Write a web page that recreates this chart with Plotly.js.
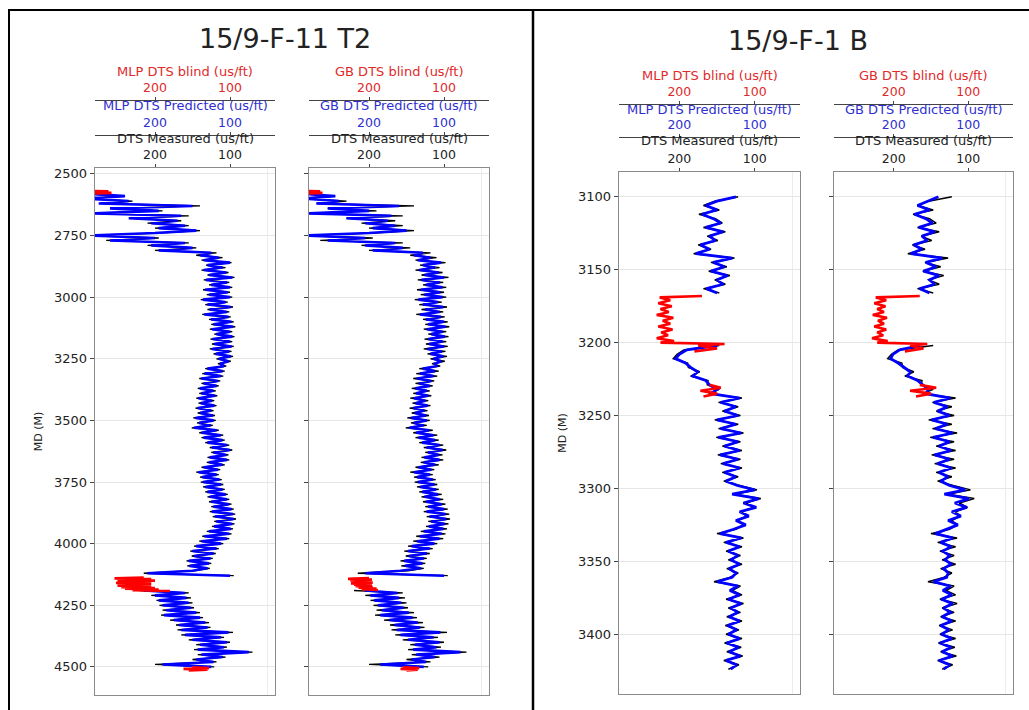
<!DOCTYPE html>
<html><head><meta charset="utf-8">
<script src="https://cdn.plot.ly/plotly-3.0.1.min.js"></script>
<style>html,body{margin:0;padding:0;background:#fff}#chart{width:1029px;height:710px}</style>
</head><body><div id="chart"></div><script>
// ---------- Well 15/9-F-11 T2 ----------
const depthF11 = [
2580,2590,2600,2610,2620,2630,2640,2650,2660,2670,
2680,2690,2700,2710,2720,2730,2740,2750,2760,2770,
2780,2790,2800,2810,2820,2830,2840,2850,2860,2870,
2880,2890,2900,2910,2920,2930,2940,2950,2960,2970,
2980,2990,3000,3010,3020,3030,3040,3050,3060,3070,
3080,3090,3100,3110,3120,3130,3140,3150,3160,3170,
3180,3190,3200,3210,3220,3230,3240,3250,3260,3270,
3280,3290,3300,3310,3320,3330,3340,3350,3360,3370,
3380,3390,3400,3410,3420,3430,3440,3450,3460,3470,
3480,3490,3500,3510,3520,3530,3540,3550,3560,3570,
3580,3590,3600,3610,3620,3630,3640,3650,3660,3670,
3680,3690,3700,3710,3720,3730,3740,3750,3760,3770,
3780,3790,3800,3810,3820,3830,3840,3850,3860,3870,
3880,3890,3900,3910,3920,3930,3940,3950,3960,3970,
3980,3990,4000,4010,4020,4030,4040,4050,4060,4070,
4080,4090,4100,4110,4120,4130,4140,4150,4160,4170,
4180,4190,4200,4210,4220,4230,4240,4250,4260,4270,
4280,4290,4300,4310,4320,4330,4340,4350,4360,4370,
4380,4390,4400,4410,4420,4430,4440,4450,4460,4470,
4480,4490,4500,4510];
const f11Measured = [
295,245,290,230,270,140,255,190,290,155,
230,165,210,155,200,140,195,295,195,265,
155,210,145,200,118,145,110,138,98,132,
106,138,102,130,94,135,101,128,97,136,
100,131,97,139,103,133,96,130,101,137,
99,128,95,125,93,127,97,121,94,126,
97,124,95,127,98,122,96,118,99,116,
105,133,107,137,109,141,113,138,115,143,
119,141,117,145,121,142,118,146,122,143,
120,149,119,144,123,151,115,141,109,138,
107,133,101,127,97,125,102,130,101,131,
107,138,113,145,115,140,111,139,109,136,
107,133,103,130,101,128,98,125,95,127,
93,123,92,121,94,124,96,131,98,137,
101,141,109,148,115,153,119,151,123,158,
125,157,127,148,215,95,null,null,null,null,
null,220,155,205,152,198,150,194,148,190,
140,192,136,180,128,172,126,170,96,165,
108,155,100,145,104,148,70,143,106,150,
118,200,121,null];
const f11MlpPred = [
290,240,295,235,275,150,260,195,285,165,
235,170,205,160,195,145,200,290,200,260,
160,205,150,195,125,140,115,135,100,130,
110,135,105,128,97,132,104,125,100,133,
103,128,100,136,106,130,99,127,104,134,
102,125,98,122,96,124,100,118,97,123,
100,121,98,124,101,119,99,115,102,113,
108,130,110,134,112,138,116,135,118,140,
122,138,120,142,124,139,121,143,125,140,
123,146,122,141,126,148,118,138,112,135,
110,130,104,124,100,122,105,127,104,128,
110,135,116,142,118,137,114,136,112,133,
110,130,106,127,104,125,101,122,98,124,
96,120,95,118,97,121,99,128,101,134,
104,138,112,145,118,150,122,148,126,155,
128,154,130,150,210,100,null,null,null,null,
null,215,160,200,158,195,155,190,152,185,
145,188,140,175,133,168,130,165,102,160,
112,150,104,140,108,143,75,138,110,145,
122,190,125,null];
const f11GbPred = [
292,245,290,240,270,160,255,200,280,170,
230,175,205,165,195,150,200,285,205,255,
165,205,155,195,128,140,118,135,104,128,
112,133,107,126,100,130,106,124,102,131,
105,126,102,134,108,128,101,125,106,132,
104,124,100,121,98,123,102,117,99,121,
102,120,100,122,103,118,101,114,104,112,
110,128,112,132,114,136,117,133,119,138,
123,137,121,140,125,138,122,141,126,139,
124,144,123,140,127,146,120,137,114,134,
112,129,106,123,102,121,107,126,106,127,
112,134,117,140,119,136,115,135,113,132,
111,129,108,126,106,124,103,121,100,123,
98,119,97,117,99,120,101,127,103,132,
106,136,113,143,119,148,123,147,127,153,
129,152,131,158,205,100,null,null,null,null,
null,205,162,198,160,193,157,188,154,183,
147,185,142,173,135,166,132,163,105,158,
114,148,106,139,110,141,78,137,112,143,
124,185,127,null];
const f11MlpBlindDepth = [2568,2571,2574,2577,2580,null,
4138,4141,4144,4147,4150,4153,4156,4159,4162,4165,4168,4171,4174,4177,4180,4183,4186,4189,4192,null,
4502,4505,4508,4511,4514];
const f11MlpBlind = [300,262,300,258,295,null,
215,254,205,248,200,250,210,252,205,248,215,250,205,245,200,240,195,230,180,null,
150,128,162,130,155];
const f11GbBlindDepth = [2568,2571,2574,2577,2580,null,
4140,4143,4146,4149,4152,4155,4158,4161,4164,4167,4170,4173,4176,4179,4182,4185,4188,null,
4502,4505,4508,4511,4514];
const f11GbBlind = [300,265,300,262,290,null,
200,228,196,225,200,222,195,224,198,220,196,218,195,214,190,210,188,null,
155,133,158,135,150];

// ---------- Well 15/9-F-1 B ----------
const depthF1B = [
3100,3103,3106,3109,3112,3115,3118,3121,3124,3127,
3130,3133,3136,3139,3142,3145,3148,3151,3154,3157,
3160,3163,3166,3169,3172,3175,3178,3181,3184,3187,
3190,3193,3196,3199,3202,3205,3208,3211,3214,3217,
3220,3223,3226,3229,3232,3235,3238,3241,3244,3247,
3250,3253,3256,3259,3262,3265,3268,3271,3274,3277,
3280,3283,3286,3289,3292,3295,3298,3301,3304,3307,
3310,3313,3316,3319,3322,3325,3328,3331,3334,3337,
3340,3343,3346,3349,3352,3355,3358,3361,3364,3367,
3370,3373,3376,3379,3382,3385,3388,3391,3394,3397,
3400,3403,3406,3409,3412,3415,3418,3421,3424];
const f1bMeasured = [
122,153,168,147,174,152,143,168,139,163,
149,175,158,181,127,158,137,161,133,153,
139,168,147,null,null,null,null,null,null,null,
null,null,null,null,147,194,203,208,189,188,
173,185,162,163,147,161,117,148,122,143,
119,153,122,148,115,151,119,143,117,149,
119,145,117,143,122,141,120,97,127,92,
112,101,117,111,122,115,125,150,115,141,
117,138,119,135,117,137,122,133,154,119,
130,117,138,115,135,119,137,117,139,121,
138,117,140,118,137,116,141,121,135];
const f1bMlpPred = [
125,150,165,150,170,155,145,165,142,160,
152,172,160,178,130,155,140,158,136,150,
142,164,150,null,null,null,null,null,null,null,
null,null,null,null,150,190,200,205,192,185,
176,182,165,160,150,158,120,145,125,140,
122,150,125,145,118,148,122,140,120,146,
122,142,120,140,125,138,123,100,130,95,
115,98,120,108,125,112,128,146,118,138,
120,135,122,132,120,134,125,130,150,122,
133,120,135,118,132,122,134,120,136,124,
135,120,137,121,134,119,138,124,132];
const f1bGbPred = [
140,155,168,152,172,157,148,166,145,162,
155,173,162,177,135,157,143,160,139,152,
145,165,152,null,null,null,null,null,null,null,
null,null,null,null,165,192,201,204,194,186,
178,181,168,161,153,157,124,146,128,141,
125,149,128,144,121,147,125,139,123,145,
125,141,123,139,127,137,125,104,132,99,
118,102,122,110,127,114,130,144,121,137,
123,134,125,131,123,133,127,129,147,124,
134,122,136,121,133,124,135,122,137,126,
136,122,138,123,135,121,139,125,133];
const f1bMlpBlindDepth = [3168,3169,3171,3173,3175,3177,3179,3181,3183,3185,3187,3189,3191,3193,3195,3197,3199,3200,3201,3202,3204,3206,null,
3229,3231,3233,3235,3237];
const f1bMlpBlind = [170,226,212,228,210,225,214,230,208,222,212,228,209,224,215,230,207,225,140,175,150,180,null,
160,145,172,150,168];
const f1bGbBlindDepth = [3168,3169,3171,3173,3175,3177,3179,3181,3183,3185,3187,3189,3191,3193,3195,3197,3199,3200,3201,3202,3204,3206,null,
3229,3231,3233,3235,3237];
const f1bGbBlind = [165,224,210,226,211,222,213,228,209,221,213,226,210,222,214,229,208,222,155,178,160,185,null,
165,143,178,150,170];

// ---------- axis labels ----------
const dtsTicks = [200, 100];
const f11DepthTicks = [2500,2750,3000,3250,3500,3750,4000,4250,4500];
const f1bDepthTicks = [3100,3150,3200,3250,3300,3350,3400];
const wellNames = ['15/9-F-11 T2', '15/9-F-1 B'];
const titleMeasured = 'DTS Measured (us/ft)';
const titlesPred = ['MLP DTS Predicted (us/ft)', 'GB DTS Predicted (us/ft)'];
const titlesBlind = ['MLP DTS blind (us/ft)', 'GB DTS blind (us/ft)'];

// ---------- styling / layout ----------
const FONT = 'DejaVu Sans, sans-serif';
const W = 1029, H = 710;
const RED = '#e02a2a', BLUE = '#2f2fd0', TXT = '#222';
const frameColor = '#8a8a8a';
const px = v => v / W, py = v => 1 - v / H;
const XR = [280, 40];
const HDR_SIZE = 13, TICK_SIZE = 12.5;

function baseX(domain, anchor) {
  return {domain, anchor, side: 'top', range: XR, tickvals: dtsTicks,
    ticks: 'outside', ticklen: 3, tickcolor: '#444',
    tickfont: {family: FONT, size: TICK_SIZE, color: TXT},
    showline: true, mirror: true, linecolor: frameColor, linewidth: 1.3,
    showgrid: false, zeroline: false,
    minor: {tickvals: [50], showgrid: true, gridcolor: '#ececec', ticks: ''},
    fixedrange: true};
}
function overX(domain, over, pos, color) {
  return {domain, overlaying: over, anchor: 'free', position: pos, side: 'top', range: XR,
    tickvals: dtsTicks, ticks: 'outside', ticklen: 3, tickcolor: '#444',
    tickfont: {family: FONT, size: TICK_SIZE, color: color},
    showline: true, linecolor: '#444', linewidth: 1,
    showgrid: false, zeroline: false, fixedrange: true};
}
function yAx(domain, anchor, range, tickvals, labels, extra) {
  return Object.assign({domain, anchor, range, tickvals,
    ticks: 'outside', ticklen: 4, tickcolor: '#444', showticklabels: labels,
    tickfont: {family: FONT, size: 13, color: TXT},
    showline: true, mirror: true, linecolor: frameColor, linewidth: 1.3,
    showgrid: true, gridcolor: '#e6e6e6', gridwidth: 1, zeroline: false,
    fixedrange: true}, extra || {});
}
function hdr(text, xc, yc, color, size) {
  return {text, x: px(xc), y: py(yc), xref: 'paper', yref: 'paper', showarrow: false,
    xanchor: 'center', yanchor: 'middle', font: {family: FONT, size: size || HDR_SIZE, color}};
}

const dT = [[px(95), px(275)], [px(309), px(489)], [px(619), px(800)], [px(834), px(1013)]];
const cT = [185, 399, 709.5, 923.5];
const yL = [py(695), py(168)], yR = [py(694), py(172)];
const mdTitle = {title: {text: 'MD (M)', font: {family: FONT, size: 11, color: TXT}, standoff: 9}};
const layout = {
  width: W, height: H, margin: {l: 0, r: 0, t: 0, b: 0},
  paper_bgcolor: '#fff', plot_bgcolor: '#fff', showlegend: false, hovermode: false,
  font: {family: FONT, color: TXT},
  xaxis: baseX(dT[0], 'y'),
  xaxis2: overX(dT[0], 'x', py(135), BLUE),
  xaxis3: overX(dT[0], 'x', py(100), RED),
  xaxis4: baseX(dT[1], 'y2'),
  xaxis5: overX(dT[1], 'x4', py(135), BLUE),
  xaxis6: overX(dT[1], 'x4', py(100), RED),
  xaxis7: baseX(dT[2], 'y3'),
  xaxis8: overX(dT[2], 'x7', py(137), BLUE),
  xaxis9: overX(dT[2], 'x7', py(104), RED),
  xaxis10: baseX(dT[3], 'y4'),
  xaxis11: overX(dT[3], 'x10', py(137), BLUE),
  xaxis12: overX(dT[3], 'x10', py(104), RED),
  yaxis: yAx(yL, 'x', [4614, 2476], f11DepthTicks, true, mdTitle),
  yaxis2: yAx(yL, 'x4', [4614, 2476], f11DepthTicks, false),
  yaxis3: yAx(yR, 'x7', [3441, 3083], f1bDepthTicks, true, mdTitle),
  yaxis4: yAx(yR, 'x10', [3441, 3083], f1bDepthTicks, false),
  annotations: [
    hdr(wellNames[0], 285, 38, TXT, 27),
    hdr(wellNames[1], 798, 40, TXT, 27),
    hdr(titlesBlind[0], cT[0], 72, RED), hdr(titlesPred[0], cT[0], 105, BLUE), hdr(titleMeasured, cT[0], 139, TXT),
    hdr(titlesBlind[1], cT[1], 72, RED), hdr(titlesPred[1], cT[1], 105, BLUE), hdr(titleMeasured, cT[1], 139, TXT),
    hdr(titlesBlind[0], cT[2], 76, RED), hdr(titlesPred[0], cT[2], 109, BLUE), hdr(titleMeasured, cT[2], 141, TXT),
    hdr(titlesBlind[1], cT[3], 76, RED), hdr(titlesPred[1], cT[3], 109, BLUE), hdr(titleMeasured, cT[3], 141, TXT)
  ],
  shapes: [
    {type: 'line', xref: 'paper', yref: 'paper', x0: px(8), x1: 1, y0: py(10), y1: py(10), line: {color: '#000', width: 2}},
    {type: 'line', xref: 'paper', yref: 'paper', x0: px(9), x1: px(9), y0: py(10), y1: 0, line: {color: '#000', width: 2}},
    {type: 'line', xref: 'paper', yref: 'paper', x0: px(533), x1: px(533), y0: py(10), y1: 0, line: {color: '#000', width: 2.5}}
  ]
};

function tr(x, y, xa, ya, color, w) {
  return {type: 'scatter', mode: 'lines', x, y, xaxis: xa, yaxis: ya, connectgaps: false,
    hoverinfo: 'skip', line: {color, width: w}};
}
const data = [
  tr(f11Measured, depthF11, 'x', 'y', '#000', 1.3),
  tr(f11MlpPred, depthF11, 'x2', 'y', '#0000ff', 2.6),
  tr(f11MlpBlind, f11MlpBlindDepth, 'x3', 'y', '#ff0000', 2.6),
  tr(f11Measured, depthF11, 'x4', 'y2', '#000', 1.3),
  tr(f11GbPred, depthF11, 'x5', 'y2', '#0000ff', 2.6),
  tr(f11GbBlind, f11GbBlindDepth, 'x6', 'y2', '#ff0000', 2.6),
  tr(f1bMeasured, depthF1B, 'x7', 'y3', '#000', 1.5),
  tr(f1bMlpPred, depthF1B, 'x8', 'y3', '#0000ff', 2.8),
  tr(f1bMlpBlind, f1bMlpBlindDepth, 'x9', 'y3', '#ff0000', 2.6),
  tr(f1bMeasured, depthF1B, 'x10', 'y4', '#000', 1.5),
  tr(f1bGbPred, depthF1B, 'x11', 'y4', '#0000ff', 2.8),
  tr(f1bGbBlind, f1bGbBlindDepth, 'x12', 'y4', '#ff0000', 2.6)
];
Plotly.newPlot('chart', data, layout, {staticPlot: true, displayModeBar: false});
</script></body></html>
